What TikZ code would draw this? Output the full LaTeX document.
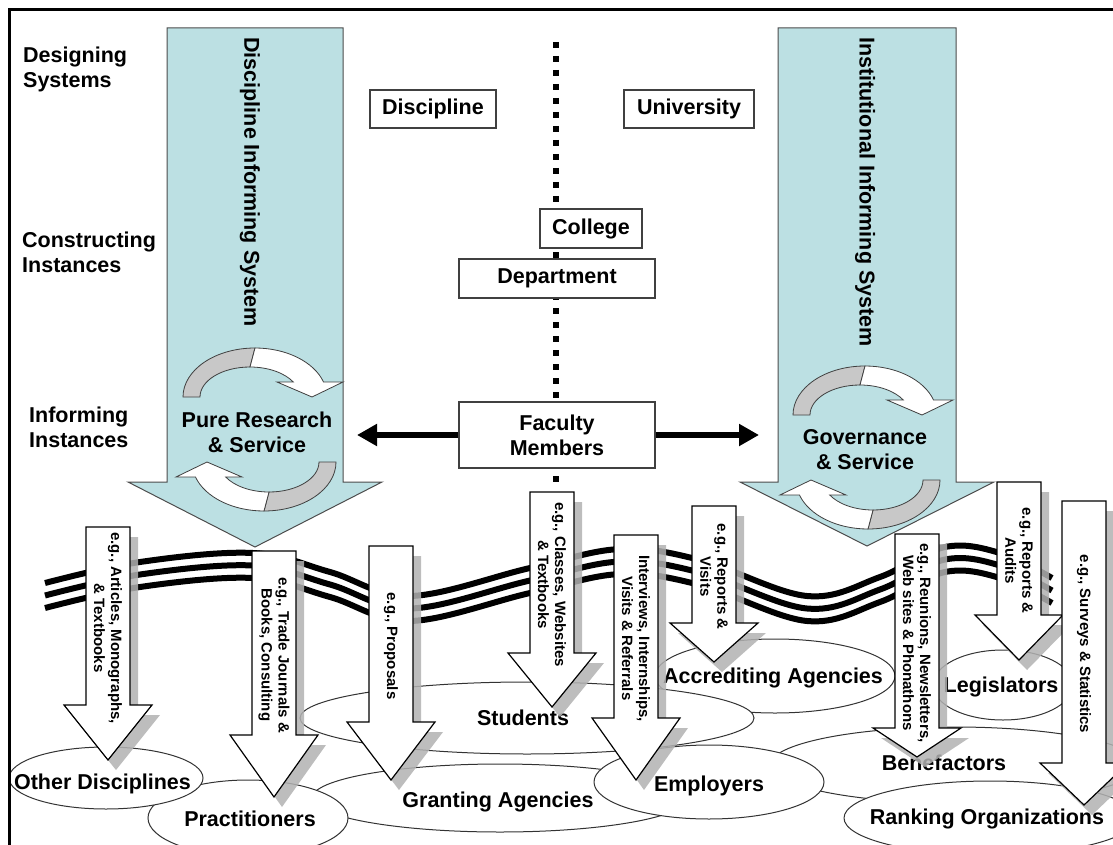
\documentclass[tikz,border=0pt]{standalone}
\usepackage{fontspec}
\setmainfont{Liberation Sans}
\usepackage{tikz}
\usetikzlibrary{arrows.meta}
\definecolor{sys_blue}{RGB}{188,224,227}
\definecolor{loop_gray}{RGB}{200,200,200}
\definecolor{shade_gray}{RGB}{178,178,178}
\newcommand{\bigfont}{\bfseries\fontsize{21.5}{25}\selectfont}
\newcommand{\cycarrow}[2]{%
  \begin{scope}[shift={#1}, rotate=#2]
    \filldraw[cycback] (-72,0) arc[start angle=180, end angle=270, x radius=72, y radius=49]
      -- (-5,-30) arc[start angle=270, end angle=180, x radius=50, y radius=30] -- cycle;
    \filldraw[cycfront] (0,-49) arc[start angle=270, end angle=342.2, x radius=72, y radius=49]
      -- (88,-15) -- (57,0) -- (22,-15) -- (38.3,-15)
      arc[start angle=330, end angle=270, x radius=50, y radius=30] -- cycle;
  \end{scope}}
\newcommand{\flowarrow}[6]{%
  \fill[flowshadow] (#2+8,#3+10) -- (#2+52,#3+10) -- (#2+52,#4+10) -- (#2+74,#4+10)
    -- (#2+30,#5+10) -- (#2-14,#4+10) -- (#2+8,#4+10) -- cycle;
  \filldraw[flowbody] (#2,#3) -- (#2+44,#3) -- (#2+44,#4) -- (#2+66,#4)
    -- (#2+22,#5) -- (#2-22,#4) -- (#2,#4) -- cycle;
  \node[flowtext] (#1) at (#2+22,{(#3+#4)/2+12}) {#6};}

\begin{document}
\begin{tikzpicture}[x=1pt, y=-1pt,
    sysarrow/.style={fill=sys_blue, draw=black!70, line width=1pt},
    systext/.style={font=\bigfont, inner sep=0pt},
    cycback/.style={fill=loop_gray, draw=black!75, line width=0.8pt},
    cycfront/.style={fill=white, draw=black!75, line width=0.8pt},
    lvl/.style={font=\bigfont, align=left, anchor=west, inner sep=0pt},
    unitbox/.style={draw=black!75, fill=white, line width=1.2pt, font=\bigfont, inner sep=0pt},
    divider/.style={line width=6pt, dash pattern=on 6pt off 8pt},
    link/.style={line width=6pt, -{Triangle[length=20pt, width=21pt]}},
    orgshape/.style={fill=white, draw=black!80, line width=1pt},
    orgtext/.style={font=\bigfont, inner sep=0pt},
    wave/.style={line width=6pt},
    flowshadow/.style={fill=shade_gray, fill opacity=0.85},
    flowbody/.style={fill=white, draw=black, line width=1.2pt},
    flowtext/.style={font=\bfseries\fontsize{15}{17}\selectfont, align=center, rotate=-90, inner sep=0pt},
  ]
  \useasboundingbox (0,0) rectangle (1113,845);

  \filldraw[sysarrow] (167,28) -- (343,28) -- (343,482) -- (382,482) -- (255,547) -- (128,482) -- (167,482) -- cycle;
  \filldraw[sysarrow] (778,28) -- (956,28) -- (956,482) -- (994,482) -- (867,546) -- (740,482) -- (778,482) -- cycle;
  \node[systext, rotate=-90] (dis) at (250,182) {Discipline Informing System};
  \node[systext, rotate=-90] (ins) at (865,192) {Institutional Informing System};
  \cycarrow{(255,397)}{0}
  \cycarrow{(264,462)}{180}
  \cycarrow{(865,415)}{0}
  \cycarrow{(868,480)}{180}
  \node[systext, align=center] (pure) at (257,432) {Pure Research\\\& Service};
  \node[systext, align=center] (gov) at (865,450) {Governance\\\& Service};

  \node[lvl] (design) at (23,69) {Designing\\Systems};
  \node[lvl] (construct) at (22,252) {Constructing\\Instances};
  \node[lvl] (inform) at (29,427) {Informing\\Instances};

  \coordinate (dtop) at (556,42);
  \coordinate (dbot) at (556,484);
  \draw[divider] (dtop) -- (dbot);

  \node[unitbox, minimum width=126pt, minimum height=38pt] (discipline) at (433,109) {Discipline};
  \node[unitbox, minimum width=130pt, minimum height=38pt] (univ) at (689,109) {University};
  \node[unitbox, minimum width=102pt, minimum height=39pt] (college) at (591,228.5) {College};
  \node[unitbox, minimum width=196pt, minimum height=39pt] (dept) at (557,278.5) {Department};
  \node[unitbox, minimum width=196pt, minimum height=66pt, align=center] (faculty) at (557,435) {Faculty\\Members};

  \coordinate (tipL) at (357,435);
  \coordinate (tipR) at (759,435);
  \draw[link] (faculty.west) -- (tipL);
  \draw[link] (faculty.east) -- (tipR);

  \foreach \nm/\cx/\cy/\rx/\ry/\tx/\ty/\lbl in {
      accred/775/676/120/37/773/677.7/Accrediting Agencies,
      students/527/718/227/36/523/718/Students,
      legis/1003/685/70/35/1001/687/Legislators,
      benef/955/765/185/38/944/762.5/Benefactors,
      ranking/990/818/146/37/987/818.7/Ranking Organizations,
      granting/500/798/188/34/498/801.7/Granting Agencies,
      employers/709/782/115/37/709/786/Employers,
      practit/248/818/100/38/250/819/Practitioners,
      others/106/778/97/31/102.5/783.7/Other Disciplines}
    {\filldraw[orgshape] (\cx,\cy) ellipse [x radius=\rx, y radius=\ry];
     \node[orgtext] (\nm) at (\tx,\ty) {\lbl};}

  \foreach \dy in {0,12.5,25}
    \draw[wave, shift={(0,\dy)}] plot[smooth, tension=0.6] coordinates {(45,583) (140,562) (253,553) (330,572)
      (410,596) (530,568) (620,549) (700,560) (807,596) (880,577) (945,547) (1000,553) (1052,578)};

  \flowarrow{articles}{86}{527}{705}{760}{e.g., Articles, Monographs,\\\& Textbooks}
  \flowarrow{trade}{252}{551}{735}{797}{e.g., Trade Journals \&\\Books, Consulting}
  \flowarrow{proposals}{369}{546}{722}{780}{e.g., Proposals}
  \flowarrow{classes}{530}{492}{653}{707}{e.g., Classes, Websites\\\& Textbooks}
  \flowarrow{interviews}{614}{535}{718}{780}{Interviews, Internships,\\Visits \& Referrals}
  \flowarrow{accvisits}{692}{506}{623}{662}{e.g., Reports \&\\Visits}
  \flowarrow{reunions}{895}{534}{728}{757}{e.g., Reunions, Newsletters,\\Web sites \& Phonathons}
  \flowarrow{audits}{997}{482}{615}{660}{e.g., Reports \&\\Audits}
  \flowarrow{surveys}{1062}{501}{763}{805}{e.g., Surveys \& Statistics}

  \draw[line width=3pt] (9,850) -- (9,10) -- (1120,10);
\end{tikzpicture}
\end{document}
